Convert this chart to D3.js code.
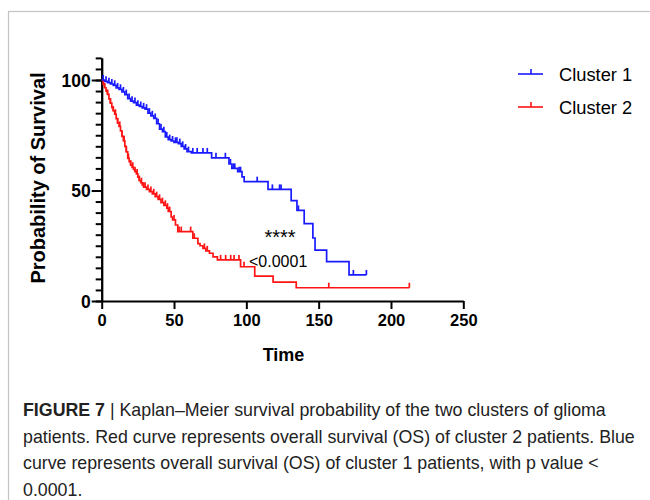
<!DOCTYPE html>
<html>
<head>
<meta charset="utf-8">
<script src="https://cdn.jsdelivr.net/npm/d3@7"></script>
<style>
  body { margin: 0; background: #fff; }
  svg { display: block; font-family: "Liberation Sans", Arial, sans-serif; }
</style>
</head>
<body>
<div id="chart"></div>
<script>
// series names / colours
var seriesNames = ["Cluster 1", "Cluster 2"];
var seriesColors = ["#1a1aff", "#ff1414"];

// Kaplan-Meier steps: [time, survival after the drop]
var cluster1Steps = [[0,100],[2,99.4],[4,98.8],[6,98.2],[8,97.6],[10,96.4],[12,95.8],[14,94.6],[16,93.4],[18,91.6],
  [20,90.4],[22,89.8],[24,88.6],[26,88],[28,87.4],[30,86.8],[32,85],[34,83.8],[36,82.6],[38,80.2],[40,77.8],[42,76.6],
  [44,74.2],[46,73],[48,72.4],[50,71.8],[53,71.2],[55,70],[57,68.8],[59,67.6],[62,67],[76,64.8],[88,62],[90,60],
  [94,58.5],[97,56.2],[98.5,54],[115,50.5],[131,45.4],[135,41],[140,35],[146,28.5],[147.5,23],[155.5,17.8],[171,11.8]];
var cluster1End = 183;
var cluster1Censor = [1,3,5,7,9,11,13,15,17,19,21,23,25,27,29,31,33,35,37,39,41,43,45,47,49,51,52,54,56,58,60,63,66,
  70,73,79,85.5,89,91,92,95,96,107.5,118,123,124,136,174,183];

var cluster2Steps = [[0,100],[1,98],[2,96.5],[3,95],[4,93.5],[5,91.5],[6,89.5],[7,87.5],[8,86],[9,84.5],[10,82.5],
  [11,80.5],[12,79],[13,77],[14,74.5],[15,72.5],[16,70],[17,67.5],[18,64.5],[19,63],[20,61.5],[21,60.5],[22,59.5],
  [23,58.5],[24,57.5],[25,56],[26,54.5],[27,53.5],[28,52.5],[29,51.5],[31,50.5],[33,49.5],[35,48.5],[37,47.2],[39,46],
  [41,44.5],[43,43.3],[45,42],[46,40.5],[48,38],[49,36.7],[51,34.4],[52.6,31.4],[63,28.4],[66.5,26],[68,25],[70,23.8],
  [72,22.7],[74.5,21.6],[77,20],[80,18.6],[96,15.5],[105.8,11.3],[118.5,8.5],[134.5,6]];
var cluster2End = 212.7;
var cluster2Censor = [2,4,6,8,9.5,11,12.5,14,15.5,17,18.5,20,21.5,23,24.5,26,27.5,29,30,32,34,36,38,40,42,44,45.5,
  47,50,53.5,55,61.5,64,71,73,82.2,85.7,89.2,91.5,94.9,98.4,157,212.7];

var xTicks = [0, 50, 100, 150, 200, 250];
var yTicks = [0, 50, 100];
var yMinorTicks = d3.range(0, 111, 5);

var captionLines = [
  "| Kaplan\u2013Meier survival probability of the two clusters of glioma",
  "patients. Red curve represents overall survival (OS) of cluster 2 patients. Blue",
  "curve represents overall survival (OS) of cluster 1 patients, with p value <",
  "0.0001."
];

var width = 650, height = 500;
var svg = d3.select("#chart").append("svg")
    .attr("width", width)
    .attr("height", height);

// grey frame of the figure
svg.append("rect")
    .attr("x", 8.5).attr("y", 11.5)
    .attr("width", 700).attr("height", 600)
    .attr("fill", "none")
    .attr("stroke", "#c4c4c4")
    .attr("stroke-width", 1.2);

var x = d3.scaleLinear().domain([0, 250]).range([101.7, 463.3]);
var y = d3.scaleLinear().domain([0, 110]).range([301, 57.9]);

// axes
var xAxis = svg.append("g")
    .attr("transform", "translate(0," + y(0) + ")")
    .call(d3.axisBottom(x).tickValues(xTicks).tickSize(8).tickPadding(5).tickSizeOuter(0));
var yMinor = svg.append("g")
    .attr("transform", "translate(" + x(0) + ",0)")
    .call(d3.axisLeft(y).tickValues(yMinorTicks).tickSize(6).tickFormat("").tickSizeOuter(0));
var yAxis = svg.append("g")
    .attr("transform", "translate(" + x(0) + ",0)")
    .call(d3.axisLeft(y).tickValues(yTicks).tickSize(10).tickPadding(1).tickSizeOuter(0));

[xAxis, yMinor, yAxis].forEach(function(g) {
  g.select(".domain").attr("stroke", "#000").attr("stroke-width", 2);
  g.selectAll(".tick line").attr("stroke", "#000").attr("stroke-width", 2);
  g.selectAll(".tick text")
    .attr("fill", "#000")
    .style("font-family", "'Liberation Sans', Arial, sans-serif")
    .style("font-size", "16.5px")
    .style("font-weight", "bold");
});
yAxis.selectAll(".tick text").attr("dy", "0.36em").style("font-size", "17.5px");

// axis titles
svg.append("text")
    .attr("x", (x(0) + x(250)) / 2 + 1)
    .attr("y", 361)
    .attr("text-anchor", "middle")
    .style("font-size", "18px")
    .style("font-weight", "bold")
    .text("Time");
svg.append("text")
    .attr("transform", "translate(45,178) rotate(-90)")
    .attr("text-anchor", "middle")
    .style("font-size", "20px")
    .style("font-weight", "bold")
    .text("Probability of Survival");

// survival curves
function survivalAt(steps, t) {
  var s = steps[0][1];
  steps.forEach(function(d) { if (d[0] <= t) s = d[1]; });
  return s;
}
var line = d3.line()
    .x(function(d) { return x(d[0]); })
    .y(function(d) { return y(d[1]); })
    .curve(d3.curveStepAfter);

var curves = [
  {steps: cluster1Steps, end: cluster1End, censor: cluster1Censor, color: seriesColors[0]},
  {steps: cluster2Steps, end: cluster2End, censor: cluster2Censor, color: seriesColors[1]}
];
// draw red first so blue sits on top at the start
curves.slice().reverse().forEach(function(c) {
  var pts = c.steps.concat([[c.end, c.steps[c.steps.length - 1][1]]]);
  svg.append("path")
      .datum(pts)
      .attr("fill", "none")
      .attr("stroke", c.color)
      .attr("stroke-width", 1.7)
      .attr("d", line);
  svg.selectAll(null)
      .data(c.censor)
      .enter().append("line")
      .attr("x1", function(t) { return x(t); })
      .attr("x2", function(t) { return x(t); })
      .attr("y1", function(t) { return y(survivalAt(c.steps, t)); })
      .attr("y2", function(t) { return y(survivalAt(c.steps, t)) - 5; })
      .attr("stroke", c.color)
      .attr("stroke-width", 1.7);
});

// significance annotation
svg.append("text")
    .attr("x", 280).attr("y", 244)
    .attr("text-anchor", "middle")
    .style("font-size", "20px")
    .text("****");
svg.append("text")
    .attr("x", 249).attr("y", 267)
    .style("font-size", "16px")
    .text("<0.0001");

// legend
var legend = svg.append("g");
seriesNames.forEach(function(name, i) {
  var ly = 74 + i * 33;
  legend.append("line")
      .attr("x1", 518).attr("x2", 543)
      .attr("y1", ly).attr("y2", ly)
      .attr("stroke", seriesColors[i]).attr("stroke-width", 1.6);
  legend.append("line")
      .attr("x1", 531).attr("x2", 531)
      .attr("y1", ly).attr("y2", ly - 5)
      .attr("stroke", seriesColors[i]).attr("stroke-width", 1.6);
  legend.append("text")
      .attr("x", 559).attr("y", ly + 6.5)
      .style("font-size", "18.3px")
      .text(name);
});

// caption
var cap = svg.append("g").style("font-size", "17.8px").attr("fill", "#222");
captionLines.forEach(function(txt, i) {
  var t = cap.append("text").attr("x", 23).attr("y", 416 + i * 26.5);
  if (i === 0) {
    t.append("tspan").style("font-weight", "bold").text("FIGURE 7 ");
  }
  t.append("tspan").text(txt);
});
</script>
</body>
</html>
